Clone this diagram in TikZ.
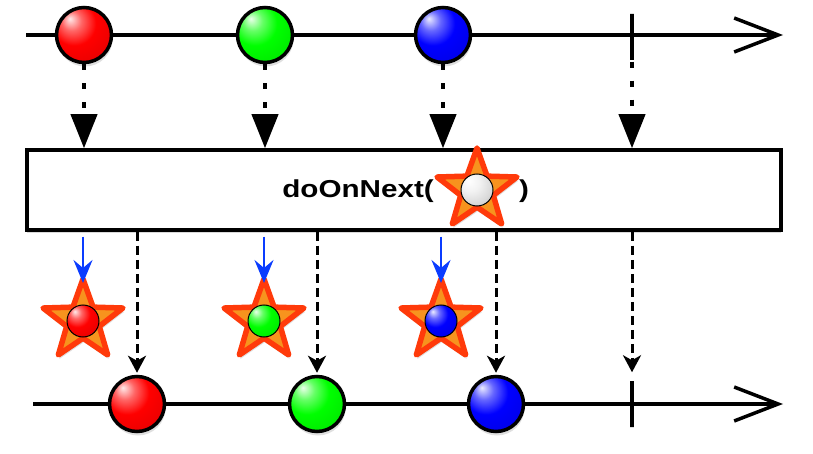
\documentclass[tikz,border=0pt]{standalone}
\usepackage{fontspec}
\newfontfamily\opfont[FakeStretch=1.21]{Liberation Sans}
\usetikzlibrary{arrows.meta,shapes.geometric,shadows}
\definecolor{starline}{HTML}{FF3A0A}
\definecolor{starfill}{HTML}{F7931E}
\definecolor{emitblue}{HTML}{0A3CFF}
\newcommand\marbleshade[2]{%
  \pgfdeclareradialshading{#1ball}{\pgfpoint{-13bp}{15bp}}{%
    color(0bp)=(#2!8!white); color(9bp)=(#2!60!white); color(20bp)=(#2);
    color(42bp)=(#2!88!black); color(66bp)=(#2!60!black)}}
\marbleshade{red}{red}
\marbleshade{green}{green}
\marbleshade{blue}{blue}
\pgfdeclareradialshading{whiteball}{\pgfpoint{-13bp}{15bp}}{%
  color(0bp)=(white); color(14bp)=(white!95!black); color(30bp)=(white!85!black);
  color(48bp)=(white!68!black); color(66bp)=(white!45!black)}
\tikzset{
  softshadow/.style={drop shadow={opacity=0.25,shadow xshift=1pt,shadow yshift=-4pt}},
  timeline/.style={line width=3.5pt,-{Straight Barb[length=44pt,width=34pt,line width=3.5pt]}},
  marble/.style={circle,draw,line width=3.5pt,minimum size=55pt,inner sep=0pt,shading=#1ball,softshadow},
  endmark/.style={rectangle,draw,line width=3.5pt,minimum width=0pt,minimum height=46pt,inner sep=0pt},
  gem/.style={star,star points=5,star point ratio=2.45,minimum size=84pt,inner sep=0pt,
    draw=starline,fill=starfill,line width=5.5pt,line join=round,softshadow},
  gemball/.style={circle,draw,line width=1pt,minimum size=32pt,inner sep=0pt,shading=#1ball},
  opbox/.style={rectangle,draw,line width=3.5pt,fill=white,minimum width=754pt,minimum height=80pt,
    inner sep=0pt,drop shadow={opacity=0.3,shadow xshift=0pt,shadow yshift=-3pt}},
  dotarrow/.style={line width=4pt,dash pattern=on 6pt off 13pt,-{Triangle[length=34pt,width=26pt]}},
  dasharrow/.style={line width=3pt,dash pattern=on 9pt off 5pt,-{Stealth[length=17pt,width=18pt,inset=5pt]}},
  emit/.style={emitblue,line width=2.5pt,-{Stealth[length=23pt,width=19pt,inset=8pt]}},
  optext/.style={inner sep=0pt,font=\opfont\bfseries\fontsize{24.5}{29}\selectfont}
}
\begin{document}
\begin{tikzpicture}[x=1pt,y=-1pt]
\useasboundingbox (0,0) rectangle (813,454);
% source
\coordinate (in0) at (26,35);
\coordinate (in1) at (783,35);
\draw[timeline] (in0) -- (in1);
\node[marble=red] (r1) at (84,35) {};
\node[marble=green] (g1) at (265,35) {};
\node[marble=blue] (b1) at (443,35) {};
\node[endmark] (t1) at (632,37) {};
% operator
\node[opbox] (op) at (404,190) {};
\node[gem] (sk) at (477,190) {};
\node[gemball=white] (skb) at (sk.center) {};
\node[optext,anchor=base east] (lbl) at (434,198) {doOnNext(};
\node[optext,anchor=base west] (rpar) at (519,198) {)};
\draw[dotarrow] (r1.south) -- (r1.south |- op.north);
\draw[dotarrow] (g1.south) -- (g1.south |- op.north);
\draw[dotarrow] (b1.south) -- (b1.south |- op.north);
\draw[dotarrow] (t1.south) -- (t1.south |- op.north);
% side effects
\node[gem] (s1) at (83,321) {};
\node[gemball=red] (s1b) at (s1.center) {};
\node[gem] (s2) at (264,321) {};
\node[gemball=green] (s2b) at (s2.center) {};
\node[gem] (s3) at (441,321) {};
\node[gemball=blue] (s3b) at (s3.center) {};
\draw[emit] ([yshift=-5pt]op.south -| s1.center) -- ([yshift=38pt]s1.center);
\draw[emit] ([yshift=-5pt]op.south -| s2.center) -- ([yshift=38pt]s2.center);
\draw[emit] ([yshift=-5pt]op.south -| s3.center) -- ([yshift=38pt]s3.center);
% result
\coordinate (out0) at (33,404);
\coordinate (out1) at (783,404);
\draw[timeline] (out0) -- (out1);
\node[marble=red] (r2) at (137,404) {};
\node[marble=green] (g2) at (317,404) {};
\node[marble=blue] (b2) at (496,404) {};
\node[endmark] (t2) at (632,404) {};
\draw[dasharrow,shorten >=2pt] (op.south -| r2.north) -- (r2.north);
\draw[dasharrow,shorten >=2pt] (op.south -| g2.north) -- (g2.north);
\draw[dasharrow,shorten >=2pt] (op.south -| b2.north) -- (b2.north);
\draw[dasharrow,shorten >=7pt] (op.south -| t2.north) -- (t2.north);
\end{tikzpicture}
\end{document}
